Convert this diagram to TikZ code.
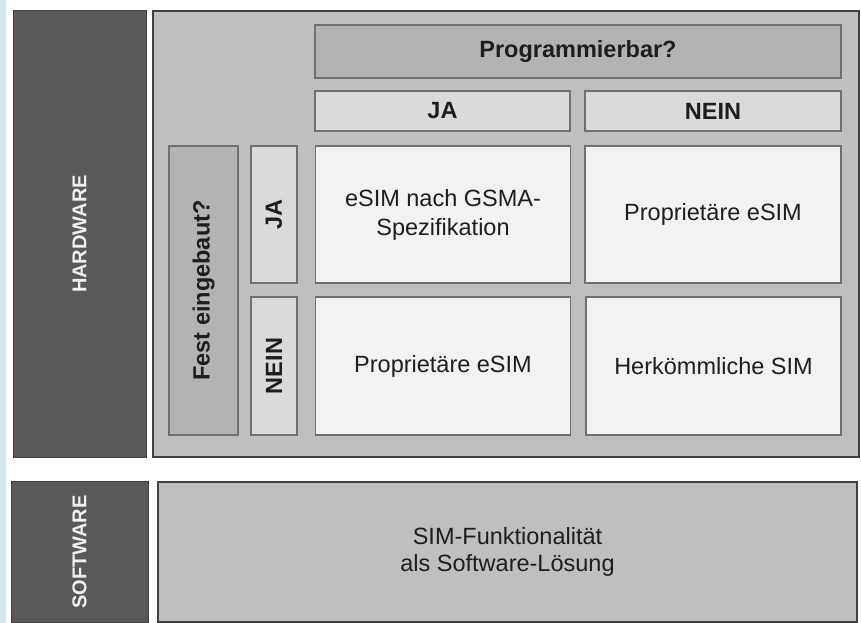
\documentclass[tikz,border=0pt]{standalone}
\usepackage{fontspec}
\setmainfont{Liberation Sans}
\usepackage{tikz}

\definecolor{darkbox}{HTML}{595959}
\definecolor{framegray}{HTML}{BFBFBF}
\definecolor{questgray}{HTML}{B3B3B3}
\definecolor{headgray}{HTML}{DADADA}
\definecolor{cellgray}{HTML}{F2F2F2}
\definecolor{edgegray}{HTML}{707070}
\definecolor{framedge}{HTML}{404040}
\definecolor{textgray}{HTML}{1E1E1E}
\definecolor{stripblue}{HTML}{D7E7F1}

\begin{document}
\begin{tikzpicture}[x=1pt, y=-1pt,
    every node/.style={inner sep=0pt, outer sep=0pt, align=center, text=textgray},
    side block/.style={fill=darkbox, draw=framedge, line width=1pt, text=white!94!black,
                       font=\fontsize{20}{24}\selectfont\bfseries, rotate=90},
    frame box/.style={fill=framegray, draw=framedge, line width=1.5pt},
    question/.style={fill=questgray, draw=edgegray, line width=1.8pt,
                     font=\fontsize{23.5}{28}\selectfont\bfseries},
    header/.style={fill=headgray, draw=edgegray, line width=1.8pt,
                   font=\fontsize{23.5}{28}\selectfont\bfseries},
    cell/.style={fill=cellgray, draw=edgegray, line width=1.8pt,
                 minimum width=255pt, minimum height=137pt,
                 font=\fontsize{23.5}{29}\selectfont}]
  \useasboundingbox (0,0) rectangle (861,623);
  \fill[white] (0,0) rectangle (861,623);
  \fill[stripblue] (0,0) rectangle (6,623);

  % hardware part
  \node[side block, minimum width=446pt, minimum height=133pt] (hw) at (79.5,234) {HARDWARE};
  \node[frame box, minimum width=706pt, minimum height=446pt] (frame) at (506,234) {};
  \node[question, minimum width=526pt, minimum height=53pt] (prog) at (578,51.5) {Programmierbar?};
  \node[header, minimum width=255pt, minimum height=40pt] (progja) at (442.5,111) {JA};
  \node[header, minimum width=256pt, minimum height=40pt] (prognein) at (713,111) {NEIN};
  \node[question, rotate=90, minimum width=289pt, minimum height=69pt] (fest) at (203.5,290.5) {Fest eingebaut?};
  \node[header, rotate=90, minimum width=137pt, minimum height=46pt] (festja) at (274,214.5) {JA};
  \node[header, rotate=90, minimum width=138pt, minimum height=46pt] (festnein) at (274,366) {NEIN};

  \node[cell] (gsma) at (443,214.5) {eSIM nach GSMA-\\Spezifikation};
  \node[cell, minimum width=256pt] (propA) at (713,214.5) {Proprietäre eSIM};
  \node[cell, minimum height=138pt] (propB) at (443,366) {Proprietäre eSIM};
  \node[cell, minimum width=255pt, minimum height=138pt] (classic) at (713.5,366) {Herkömmliche SIM};

  % software part
  \node[side block, minimum width=141pt, minimum height=137pt] (sw) at (79.5,552) {SOFTWARE};
  \node[frame box, minimum width=699pt, minimum height=140pt,
        font=\fontsize{23.5}{27}\selectfont] (swbar) at (507.5,552) {SIM-Funktionalität\\als Software-Lösung};
\end{tikzpicture}
\end{document}
